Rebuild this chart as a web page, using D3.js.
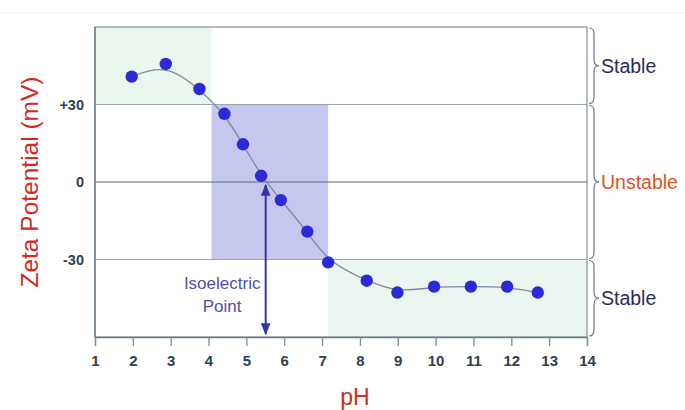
<!DOCTYPE html>
<html><head><meta charset="utf-8">
<script src="https://cdn.jsdelivr.net/npm/d3@7"></script>
<style>body{margin:0;background:#fff}svg{display:block}</style>
</head><body>
<svg id="c" width="685" height="410"></svg>
<script>
const phValues   = [1.97, 2.87, 3.76, 4.42, 4.91, 5.39, 5.91, 6.61, 7.16, 8.18, 8.99, 9.96, 10.93, 11.89, 12.70];
const zetaValues = [40.8, 45.7, 36.0, 26.4, 14.6, 2.4, -7.0, -19.2, -31.1, -38.2, -42.8, -40.5, -40.5, -40.5, -42.8];
const xTicks = [1,2,3,4,5,6,7,8,9,10,11,12,13,14];
const yTicks = [30, 0, -30];
const yTickLabels = ["+30", "0", "-30"];
const zones = [
  {x0: 1, x1: 4.08, y0: 30, y1: 60, fill: "#eaf6ee"},
  {x0: 4.08, x1: 7.16, y0: -30, y1: 30, fill: "#c6c7ef"},
  {x0: 7.16, x1: 14, y0: -60, y1: -30, fill: "#eaf6ef"}
];
const braces = [
  {y0: 60, y1: 30, label: "Stable", color: "#2b2b5c"},
  {y0: 30, y1: -30, label: "Unstable", color: "#e0541e"},
  {y0: -30, y1: -60, label: "Stable", color: "#2b2b5c"}
];
const isoelectricPH = 5.51;

const svg = d3.select("#c");
const m = {l: 95, r: 587, t: 27, b: 337};
const x = d3.scaleLinear().domain([1, 14]).range([m.l, m.r]);
const y = d3.scaleLinear().domain([-60, 60]).range([m.b, m.t]);
const FONT = "Liberation Sans, Arial, sans-serif";

svg.append("line").attr("x1",0).attr("x2",685).attr("y1",12.5).attr("y2",12.5).attr("stroke","#f1f1f1");

svg.selectAll("rect.zone").data(zones).join("rect").attr("class","zone")
  .attr("x", d => x(d.x0)).attr("width", d => x(d.x1) - x(d.x0))
  .attr("y", d => y(d.y1)).attr("height", d => y(d.y0) - y(d.y1))
  .attr("fill", d => d.fill);

svg.selectAll("line.h").data(yTicks).join("line").attr("class","h")
  .attr("x1", m.l).attr("x2", m.r).attr("y1", d => y(d)).attr("y2", d => y(d))
  .attr("stroke", d => d === 0 ? "#5a6a78" : "#9aa6b0").attr("stroke-width", 1.2);

svg.append("rect").attr("x", m.l).attr("y", m.t).attr("width", m.r - m.l).attr("height", m.b - m.t)
  .attr("fill","none").attr("stroke","#8c98a2").attr("stroke-width",1.3);
svg.append("line").attr("x1", m.l).attr("x2", m.l).attr("y1", m.t).attr("y2", m.b).attr("stroke","#6d7b86").attr("stroke-width",1.3);

const xAxis = d3.axisBottom(x).tickValues(xTicks).tickSize(9).tickFormat(d3.format("d"));
const gx = svg.append("g").attr("transform", `translate(0,${m.b})`).call(xAxis);
gx.select(".domain").attr("stroke","#6d7b86").attr("stroke-width",1.3);
gx.selectAll(".tick line").attr("stroke","#7f8b95").attr("stroke-width",1.3);
gx.selectAll(".tick text").attr("font-family",FONT).attr("font-size",15)
  .attr("font-weight","bold").attr("fill","#2f4152").attr("dy","1.15em");

const yAxis = d3.axisLeft(y).tickValues(yTicks).tickSize(0).tickFormat((d,i) => yTickLabels[i]);
const gy = svg.append("g").attr("transform", `translate(${m.l},0)`).call(yAxis);
gy.select(".domain").remove();
gy.selectAll(".tick text").attr("font-family",FONT).attr("font-size",14.5)
  .attr("font-weight","bold").attr("fill","#2f4152").attr("x",-11);

const line = d3.line().x((d,i) => x(phValues[i])).y(d => y(d)).curve(d3.curveBasis);
svg.append("path").datum(zetaValues).attr("d", line).attr("fill","none")
  .attr("stroke","#7b8a9c").attr("stroke-width",1.3);

const defs = svg.append("defs");
defs.append("marker").attr("id","ah").attr("viewBox","0 0 10 10").attr("refX",9).attr("refY",5)
  .attr("markerWidth",6).attr("markerHeight",6).attr("orient","auto-start-reverse")
  .append("path").attr("d","M0,1 L10,5 L0,9 Z").attr("fill","#3535a5");
svg.append("line").attr("x1", x(isoelectricPH)).attr("x2", x(isoelectricPH))
  .attr("y1", y(0) + 3).attr("y2", y(-60) - 3)
  .attr("stroke","#3535a5").attr("stroke-width",2)
  .attr("marker-start","url(#ah)").attr("marker-end","url(#ah)");
const iso = svg.append("text").attr("font-family",FONT).attr("font-size",17)
  .attr("fill","#5252a3").attr("text-anchor","middle");
iso.append("tspan").attr("x", x(4.36)).attr("y", y(-41.5)).text("Isoelectric");
iso.append("tspan").attr("x", x(4.36)).attr("y", y(-50.3)).text("Point");

svg.selectAll("circle.pt").data(zetaValues).join("circle").attr("class","pt")
  .attr("cx", (d,i) => x(phValues[i])).attr("cy", d => y(d)).attr("r", 6.2)
  .attr("fill","#2a2ad6");

const bx = m.r + 2;
braces.forEach(b => {
  const t = y(b.y0) + 1, btm = y(b.y1) - 1, mid = (t + btm) / 2;
  const w = 5;
  const p = `M${bx},${t} Q${bx+w},${t} ${bx+w},${t+6} L${bx+w},${mid-6} Q${bx+w},${mid} ${bx+2*w},${mid}` +
            ` Q${bx+w},${mid} ${bx+w},${mid+6} L${bx+w},${btm-6} Q${bx+w},${btm} ${bx},${btm}`;
  svg.append("path").attr("d", p).attr("fill","none").attr("stroke","#6f7a84").attr("stroke-width",1.2);
  svg.append("text").attr("x", bx + 2*w + 2).attr("y", mid).attr("dy","0.35em")
    .attr("font-family",FONT).attr("font-size",19.5)
    .attr("fill", b.color).text(b.label);
});

svg.append("text").attr("transform", `translate(38,${y(0)}) rotate(-90)`).attr("text-anchor","middle")
  .attr("font-family",FONT).attr("font-size",24.5).attr("fill","#d42a22")
  .text("Zeta Potential (mV)");
svg.append("text").attr("x", (m.l + m.r)/2 + 14).attr("y", 405).attr("text-anchor","middle")
  .attr("font-family",FONT).attr("font-size",23).attr("fill","#d42a22")
  .text("pH");
</script>
</body></html>
